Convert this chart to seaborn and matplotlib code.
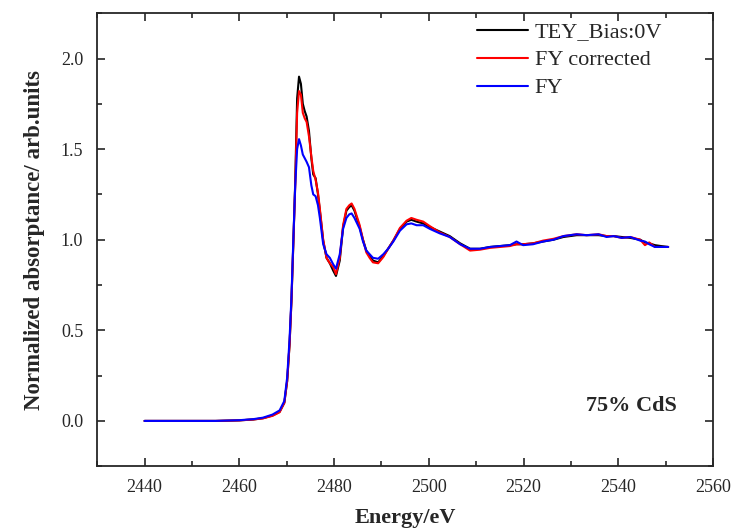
import matplotlib
matplotlib.use("Agg")
import matplotlib.pyplot as plt
import seaborn as sns
import pandas as pd
from matplotlib.ticker import MultipleLocator, FormatStrFormatter

energy = [2440, 2445, 2450, 2455, 2460, 2463, 2465, 2467, 2468.5, 2469.5,
          2470.1, 2470.6, 2471.0, 2471.4, 2471.8, 2472.2, 2472.6, 2473.0, 2473.4, 2473.8,
          2474.2, 2474.7, 2475.2, 2475.6, 2476.1, 2476.6, 2477.0, 2477.7, 2478.4, 2479.1,
          2479.8, 2480.4, 2481.2, 2481.9, 2482.6, 2483.2, 2483.7, 2484.3, 2485.4, 2486.1,
          2486.8, 2487.5, 2488.2, 2489.3, 2490.4, 2491.4, 2492.5, 2493.9, 2495.3, 2496.3,
          2497.4, 2498.8, 2500.2, 2502.3, 2504.4, 2506.6, 2508.7, 2510.8, 2512.9, 2515.0,
          2517.1, 2518.5, 2519.9, 2522.0, 2524.1, 2526.3, 2528.4, 2531.2, 2533.3, 2535.8,
          2537.5, 2539.0, 2540.7, 2542.5, 2544.6, 2545.6, 2546.5, 2547.7, 2549.0, 2550.5]

tey = [0.0, 0.0, 0.0, 0.0, 0.003, 0.008, 0.015, 0.03, 0.05, 0.10,
       0.22, 0.42, 0.66, 0.98, 1.32, 1.78, 1.90, 1.86, 1.75, 1.71,
       1.68, 1.60, 1.45, 1.36, 1.34, 1.25, 1.16, 0.995, 0.90, 0.87,
       0.83, 0.80, 0.885, 1.07, 1.16, 1.18, 1.19, 1.16, 1.07, 1.00,
       0.94, 0.91, 0.885, 0.875, 0.91, 0.95, 0.995, 1.06, 1.10, 1.11,
       1.10, 1.09, 1.07, 1.045, 1.02, 0.98, 0.95, 0.95, 0.96, 0.965,
       0.97, 0.975, 0.975, 0.98, 0.99, 1.00, 1.015, 1.025, 1.025, 1.025,
       1.02, 1.02, 1.015, 1.01, 1.00, 0.985, 0.98, 0.97, 0.965, 0.96]

fy_corrected = [0.0, 0.0, 0.0, 0.0, 0.003, 0.008, 0.014, 0.028, 0.048, 0.10,
                0.22, 0.42, 0.66, 0.98, 1.30, 1.70, 1.82, 1.80, 1.70, 1.67,
                1.65, 1.57, 1.46, 1.38, 1.33, 1.26, 1.17, 1.00, 0.90, 0.87,
                0.85, 0.81, 0.90, 1.08, 1.17, 1.19, 1.20, 1.17, 1.08, 1.00,
                0.93, 0.90, 0.875, 0.87, 0.905, 0.95, 0.995, 1.065, 1.105, 1.12,
                1.11, 1.10, 1.075, 1.04, 1.015, 0.975, 0.94, 0.945, 0.955, 0.96,
                0.965, 0.975, 0.975, 0.98, 0.995, 1.005, 1.02, 1.03, 1.025, 1.03,
                1.02, 1.02, 1.01, 1.015, 1.00, 0.97, 0.985, 0.96, 0.96, 0.96]

fy = [0.0, 0.0, 0.0, 0.0, 0.004, 0.01, 0.018, 0.035, 0.058, 0.11,
      0.24, 0.45, 0.68, 1.00, 1.30, 1.50, 1.555, 1.52, 1.47, 1.45,
      1.43, 1.40, 1.30, 1.25, 1.24, 1.19, 1.12, 0.975, 0.92, 0.90,
      0.865, 0.84, 0.92, 1.06, 1.12, 1.14, 1.145, 1.12, 1.06, 0.99,
      0.94, 0.92, 0.90, 0.895, 0.92, 0.95, 0.99, 1.05, 1.085, 1.09,
      1.08, 1.08, 1.06, 1.035, 1.015, 0.975, 0.95, 0.95, 0.96, 0.965,
      0.97, 0.99, 0.97, 0.975, 0.99, 1.00, 1.02, 1.03, 1.025, 1.03,
      1.015, 1.02, 1.01, 1.015, 0.995, 0.99, 0.975, 0.96, 0.96, 0.96]

series_names = ["TEY_Bias:0V", "FY corrected", "FY"]
series_colors = ["black", "red", "blue"]

sns.set_style("ticks")
plt.rcParams["font.family"] = ["Liberation Serif", "DejaVu Serif"]

fig = plt.figure(figsize=(7.36, 5.28), dpi=100)
ax = fig.add_axes([0.132, 0.117, 0.837, 0.858])

for name, vals, col in zip(series_names, [tey, fy_corrected, fy], series_colors):
    df = pd.DataFrame({"Energy": energy, "Abs": vals})
    sns.lineplot(data=df, x="Energy", y="Abs", color=col, linewidth=1.5,
                 sort=False, estimator=None, label=name, ax=ax)

ax.set_xlim(2430, 2560)
ax.set_ylim(-0.25, 2.25)
ax.xaxis.set_major_locator(MultipleLocator(20))
ax.xaxis.set_minor_locator(MultipleLocator(10))
ax.yaxis.set_major_locator(MultipleLocator(0.5))
ax.yaxis.set_minor_locator(MultipleLocator(0.25))
ax.yaxis.set_major_formatter(FormatStrFormatter("%.1f"))
ax.tick_params(which="both", direction="in", top=True, right=True, width=1.2,
               labelsize=13)
ax.tick_params(axis="y", pad=10)
ax.tick_params(axis="x", pad=9)
ax.tick_params(which="major", length=6)
ax.tick_params(which="minor", length=3.5)
for s in ax.spines.values():
    s.set_linewidth(1.3)

ax.set_xlabel("Energy/eV", fontsize=16, fontweight="bold", labelpad=9)
ax.set_ylabel("Normalized absorptance/ arb.units", fontsize=16.5, fontweight="bold", labelpad=11)

ax.text(2542.7, 0.08, "75% CdS", fontsize=16, fontweight="bold", ha="center", va="center")

leg = ax.legend(loc="upper left", bbox_to_anchor=(477 / 736, 1 - 22 / 528),
                bbox_transform=fig.transFigure, frameon=False, borderpad=0,
                borderaxespad=0, fontsize=16, handlelength=2.3, handletextpad=0.3,
                labelspacing=0.33)

fig.savefig("out.png", dpi=100)
